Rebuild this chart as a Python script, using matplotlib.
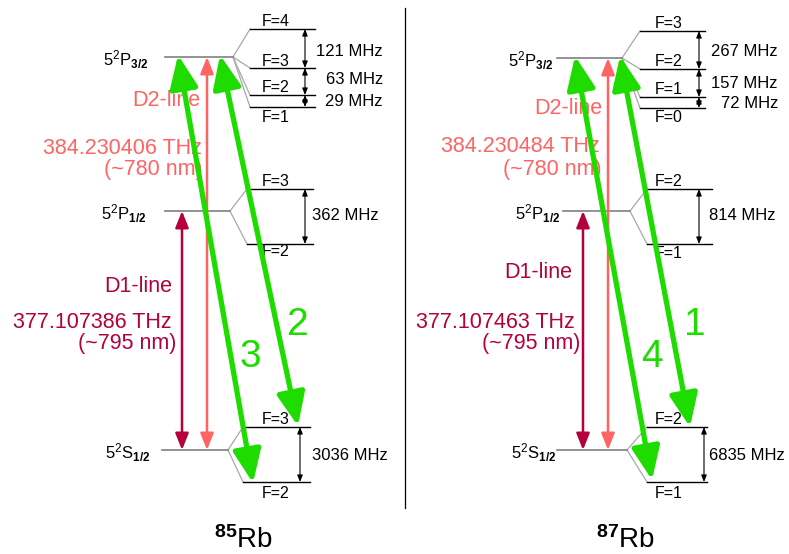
import matplotlib
matplotlib.use("Agg")
import matplotlib.pyplot as plt
from matplotlib.patches import FancyArrowPatch

plt.rcParams['font.family'] = ['Liberation Sans', 'DejaVu Sans']
plt.rcParams['mathtext.fontset'] = 'custom'
plt.rcParams['mathtext.rm'] = 'Liberation Sans'
plt.rcParams['mathtext.bf'] = 'Liberation Sans:bold'
plt.rcParams['mathtext.it'] = 'Liberation Sans:italic'

# ---------------- data ----------------
isotopes = ["85", "87"]
d2_freq = ["384.230406 THz", "384.230484 THz"]
d1_freq = ["377.107386 THz", "377.107463 THz"]
d2_wavelength = ["(~780 nm)", "(~780 nm)"]
d1_wavelength = ["(~795 nm)", "(~795 nm)"]
p32_F = [["F=4", "F=3", "F=2", "F=1"], ["F=3", "F=2", "F=1", "F=0"]]
p32_split = [["121 MHz", "63 MHz", "29 MHz"], ["267 MHz", "157 MHz", "72 MHz"]]
p12_F = [["F=3", "F=2"], ["F=2", "F=1"]]
p12_split = ["362 MHz", "814 MHz"]
s12_F = [["F=3", "F=2"], ["F=2", "F=1"]]
s12_split = ["3036 MHz", "6835 MHz"]
transition_labels = [["3", "2"], ["4", "1"]]

# ---------------- layout (pixel coordinates) ----------------
C_D2 = "#FF6464"
C_D1 = "#B4003C"
C_GREEN = "#1EDC00"
C_LEVEL = "#808080"
C_SPLIT = "#A8A8A8"

layout = [
    dict(p32_main=(165, 233, 57), p32_hf=(250, 315), p32_y=[29, 68, 95, 107], p32_br=305,
         p32_Fx=262, p32_Fy=[22, 61, 88, 118], p32_lbl=(148, 60), mhz_right=383, mhz_y=[51, 80, 101],
         p12_main=(165, 230, 211), p12_hf=(247, 313), p12_y=[189, 244], p12_br=305,
         p12_Fx=262, p12_Fy=[182, 252], p12_lbl=(146, 214), p12_mhz=(312, 215),
         s12_main=(162, 228, 450), s12_hf=(243, 310), s12_y=[427, 482], s12_br=300,
         s12_Fx=262, s12_Fy=[420, 493], s12_lbl=(150, 453), s12_mhz=(312, 455),
         d1x=182, d2x=207,
         g=[((178, 55), (253, 483)), ((220, 55), (298, 426))],
         glbl=[(250, 357), (298, 325)],
         d2_lbl=(200, 101), d2f=(202, 148), d2w=(203, 170),
         d1_lbl=(172, 287), d1f=(172, 322), d1w=(176, 344),
         iso=(243, 540)),
    dict(p32_main=(557, 622, 58), p32_hf=(640, 705), p32_y=[31, 69, 97, 108], p32_br=699,
         p32_Fx=655, p32_Fy=[24, 62, 89, 118], p32_lbl=(553, 61), mhz_right=778, mhz_y=[52, 83, 104],
         p12_main=(563, 630, 211), p12_hf=(647, 712), p12_y=[189, 244], p12_br=699,
         p12_Fx=655, p12_Fy=[182, 253], p12_lbl=(560, 214), p12_mhz=(709, 215),
         s12_main=(557, 627, 450), s12_hf=(647, 707), s12_y=[427, 482], s12_br=704,
         s12_Fx=655, s12_Fy=[420, 493], s12_lbl=(556, 453), s12_mhz=(709, 455),
         d1x=583, d2x=608,
         g=[((575, 56), (652, 480)), ((620, 56), (690, 427))],
         glbl=[(652, 357), (695, 325)],
         d2_lbl=(602, 108), d2f=(600, 147), d2w=(602, 169),
         d1_lbl=(572, 273), d1f=(575, 322), d1w=(580, 344),
         iso=(625, 540)),
]

W, H = 789, 554
fig = plt.figure(figsize=(W / 100, H / 100), dpi=100)
ax = fig.add_axes([0, 0, 1, 1])
ax.set_xlim(0, W)
ax.set_ylim(H, 0)
ax.axis("off")


def arrow(p0, p1, color, lw, hl, hw, ms=10, z=3):
    a = FancyArrowPatch(p0, p1, arrowstyle=f"<|-|>,head_length={hl},head_width={hw}",
                        mutation_scale=ms, color=color, lw=lw, shrinkA=0, shrinkB=0, zorder=z)
    ax.add_patch(a)


def level_label(x, y, sym, sub):
    # superscript drawn smaller, as in the reference
    t = ax.text(x, y, "5" + r"$^{\mathregular{2}}$" + sym + r"$_{\mathbf{" + sub + r"}}$",
                fontsize=12, ha="right", va="center")
    return t


def manifold(main, hf, ys, br, Fx, Fy, Flabels, lbl_pos, sym, sub):
    x0, x1, y0 = main
    ax.plot([x0, x1], [y0, y0], color=C_LEVEL, lw=1.2, zorder=2)
    for y in ys:
        ax.plot([x1, hf[0]], [y0, y], color=C_SPLIT, lw=0.9, zorder=1)
        ax.plot([hf[0], hf[1]], [y, y], color="black", lw=1.0, zorder=2)
    for i in range(len(ys) - 1):
        arrow((br, ys[i]), (br, ys[i + 1]), "black", 0.8, 0.5, 0.2, ms=8, z=2)
    for fy, fl in zip(Fy, Flabels):
        ax.text(Fx, fy, fl, fontsize=11.5, ha="left", va="center", zorder=4)
    level_label(lbl_pos[0], lbl_pos[1], sym, sub)


for k, L in enumerate(layout):
    manifold(L["p32_main"], L["p32_hf"], L["p32_y"], L["p32_br"], L["p32_Fx"], L["p32_Fy"],
             p32_F[k], L["p32_lbl"], "P", "3/2")
    for s, y in zip(p32_split[k], L["mhz_y"]):
        ax.text(L["mhz_right"], y, s, fontsize=12, ha="right", va="center")
    manifold(L["p12_main"], L["p12_hf"], L["p12_y"], L["p12_br"], L["p12_Fx"], L["p12_Fy"],
             p12_F[k], L["p12_lbl"], "P", "1/2")
    ax.text(*L["p12_mhz"], p12_split[k], fontsize=12, ha="left", va="center")
    manifold(L["s12_main"], L["s12_hf"], L["s12_y"], L["s12_br"], L["s12_Fx"], L["s12_Fy"],
             s12_F[k], L["s12_lbl"], "S", "1/2")
    ax.text(*L["s12_mhz"], s12_split[k], fontsize=12, ha="left", va="center")

    ys_s = L["s12_main"][2]
    arrow((L["d1x"], ys_s), (L["d1x"], L["p12_main"][2]), C_D1, 1.8, 1.0, 0.4, ms=10)
    arrow((L["d2x"], ys_s), (L["d2x"], L["p32_main"][2]), C_D2, 1.8, 1.0, 0.4, ms=10)

    ax.text(*L["d2_lbl"], "D2-line", color=C_D2, fontsize=15.5, ha="right", va="center")
    ax.text(*L["d2f"], d2_freq[k], color=C_D2, fontsize=15.5, ha="right", va="center")
    ax.text(*L["d2w"], d2_wavelength[k], color=C_D2, fontsize=15.5, ha="right", va="center")
    ax.text(*L["d1_lbl"], "D1-line", color=C_D1, fontsize=15.5, ha="right", va="center")
    ax.text(*L["d1f"], d1_freq[k], color=C_D1, fontsize=15.5, ha="right", va="center")
    ax.text(*L["d1w"], d1_wavelength[k], color=C_D1, fontsize=15.5, ha="right", va="center")

    for (p0, p1), lab, lp in zip(L["g"], transition_labels[k], L["glbl"]):
        arrow(p0, p1, C_GREEN, 3.8, 2.0, 0.85, ms=10, z=5)
        ax.text(lp[0], lp[1], lab, color=C_GREEN, fontsize=28, ha="center", va="center", zorder=5)

    ax.text(*L["iso"], r"$^{\mathbf{" + isotopes[k] + r"}}$Rb", fontsize=20, ha="center", va="center")

ax.plot([405, 405], [8, 508], color="black", lw=0.9)

fig.savefig("out.png", dpi=100)
